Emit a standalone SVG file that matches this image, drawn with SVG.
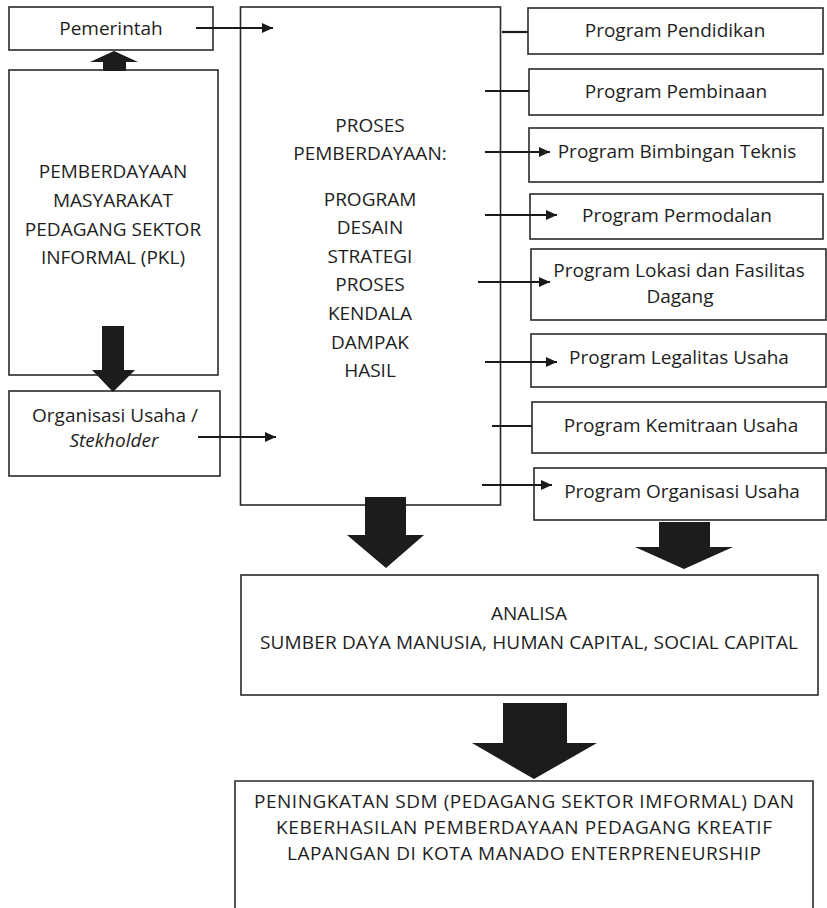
<svg xmlns="http://www.w3.org/2000/svg" width="827" height="908" viewBox="0 0 827 908">
  <defs>
    <style>
      .box { fill: #ffffff; stroke: #2a2a2a; stroke-width: 1.6; }
      .txt { font-family: "Open Sans", "Noto Sans", "DejaVu Sans", sans-serif; font-size: 19px; fill: #1e1e1e; text-anchor: middle; }
      .it { font-style: italic; }
      .link { stroke: #1a1a1a; stroke-width: 2.2; fill: none; }
      .block { fill: #1c1c1c; }
    </style>
    <marker id="head" markerUnits="userSpaceOnUse" markerWidth="12" markerHeight="10" refX="11" refY="5" orient="auto">
      <path d="M0,0 L11,5 L0,10 Z" fill="#1a1a1a"/>
    </marker>
  </defs>

  <rect width="827" height="908" fill="#ffffff"/>

  <!-- main process column -->
  <g id="proses">
    <rect class="box" x="240.5" y="7" width="260" height="498"/>
    <text class="txt" x="370" y="132">PROSES</text>
    <text class="txt" x="370" y="160">PEMBERDAYAAN:</text>
    <text class="txt" x="370" y="206">PROGRAM</text>
    <text class="txt" x="370" y="234">DESAIN</text>
    <text class="txt" x="370" y="263">STRATEGI</text>
    <text class="txt" x="370" y="291">PROSES</text>
    <text class="txt" x="370" y="320">KENDALA</text>
    <text class="txt" x="370" y="349">DAMPAK</text>
    <text class="txt" x="370" y="377">HASIL</text>
  </g>

  <g id="pemerintah">
    <rect class="box" x="9" y="7" width="204" height="43"/>
    <text class="txt" x="111" y="35">Pemerintah</text>
  </g>

  <g id="pkl">
    <rect class="box" x="9" y="70" width="209" height="305"/>
    <text class="txt" x="113" y="178">PEMBERDAYAAN</text>
    <text class="txt" x="113" y="207">MASYARAKAT</text>
    <text class="txt" x="113" y="236">PEDAGANG SEKTOR</text>
    <text class="txt" x="113" y="264">INFORMAL (PKL)</text>
  </g>

  <g id="organisasi">
    <rect class="box" x="9" y="391" width="211" height="85"/>
    <text class="txt" x="115" y="422">Organisasi Usaha /</text>
    <text class="txt it" x="114" y="447">Stekholder</text>
  </g>

  <g id="p-pendidikan">
    <rect class="box" x="528" y="8" width="295" height="46"/>
    <text class="txt" x="675" y="37">Program Pendidikan</text>
  </g>
  <g id="p-pembinaan">
    <rect class="box" x="529" y="69" width="294" height="46"/>
    <text class="txt" x="676" y="98">Program Pembinaan</text>
  </g>
  <g id="p-bimbingan">
    <rect class="box" x="529" y="128" width="294" height="54"/>
    <text class="txt" x="677" y="158">Program Bimbingan Teknis</text>
  </g>
  <g id="p-permodalan">
    <rect class="box" x="530" y="194" width="293" height="45"/>
    <text class="txt" x="677" y="222">Program Permodalan</text>
  </g>
  <g id="p-lokasi">
    <rect class="box" x="531" y="249" width="295" height="71"/>
    <text class="txt" x="679" y="277">Program Lokasi dan Fasilitas</text>
    <text class="txt" x="680" y="303">Dagang</text>
  </g>
  <g id="p-legalitas">
    <rect class="box" x="531" y="334" width="295" height="53"/>
    <text class="txt" x="679" y="364">Program Legalitas Usaha</text>
  </g>
  <g id="p-kemitraan">
    <rect class="box" x="532" y="402" width="294" height="51"/>
    <text class="txt" x="681" y="432">Program Kemitraan Usaha</text>
  </g>
  <g id="p-organisasi">
    <rect class="box" x="534" y="468" width="292" height="52"/>
    <text class="txt" x="682" y="498">Program Organisasi Usaha</text>
  </g>

  <g id="analisa">
    <rect class="box" x="241" y="575" width="577" height="120"/>
    <text class="txt" x="529" y="620">ANALISA</text>
    <text class="txt" x="529" y="649" textLength="538" lengthAdjust="spacing">SUMBER DAYA MANUSIA, HUMAN CAPITAL, SOCIAL CAPITAL</text>
  </g>

  <g id="hasil">
    <path class="box" d="M235,910 V781 H813 V910"/>
    <text class="txt" x="524" y="808" textLength="540" lengthAdjust="spacing">PENINGKATAN SDM (PEDAGANG SEKTOR IMFORMAL) DAN</text>
    <text class="txt" x="524" y="834" textLength="496" lengthAdjust="spacing">KEBERHASILAN PEMBERDAYAAN PEDAGANG KREATIF</text>
    <text class="txt" x="524" y="860" textLength="474" lengthAdjust="spacing">LAPANGAN DI KOTA MANADO ENTERPRENEURSHIP</text>
  </g>

  <!-- connectors -->
  <g id="connectors">
    <line class="link" x1="196" y1="28" x2="273" y2="28" marker-end="url(#head)"/>
    <line class="link" x1="198" y1="437" x2="276" y2="437" marker-end="url(#head)"/>

    <line class="link" x1="502" y1="32" x2="528" y2="32"/>
    <line class="link" x1="485" y1="91" x2="529" y2="91"/>
    <line class="link" x1="485" y1="152" x2="550" y2="152" marker-end="url(#head)"/>
    <line class="link" x1="485" y1="215" x2="557" y2="215" marker-end="url(#head)"/>
    <line class="link" x1="478" y1="282" x2="550" y2="282" marker-end="url(#head)"/>
    <line class="link" x1="485" y1="362" x2="557" y2="362" marker-end="url(#head)"/>
    <line class="link" x1="492" y1="426" x2="532" y2="426"/>
    <line class="link" x1="482" y1="485" x2="552" y2="485" marker-end="url(#head)"/>

    <!-- block arrows -->
    <polygon class="block" points="103,71 103,62 90,62 114,51 138,62 126,62 126,71"/>
    <polygon class="block" points="102,326 124,326 124,370 135,370 113,392 92,370 102,370"/>
    <polygon class="block" points="365,497 406,497 406,535 424,535 386,568 347,535 365,535"/>
    <polygon class="block" points="659,522 710,522 710,547 733,547 684,569 635,547 659,547"/>
    <polygon class="block" points="503,703 567,703 567,743 597,743 534,779 472,743 503,743"/>
  </g>
</svg>
